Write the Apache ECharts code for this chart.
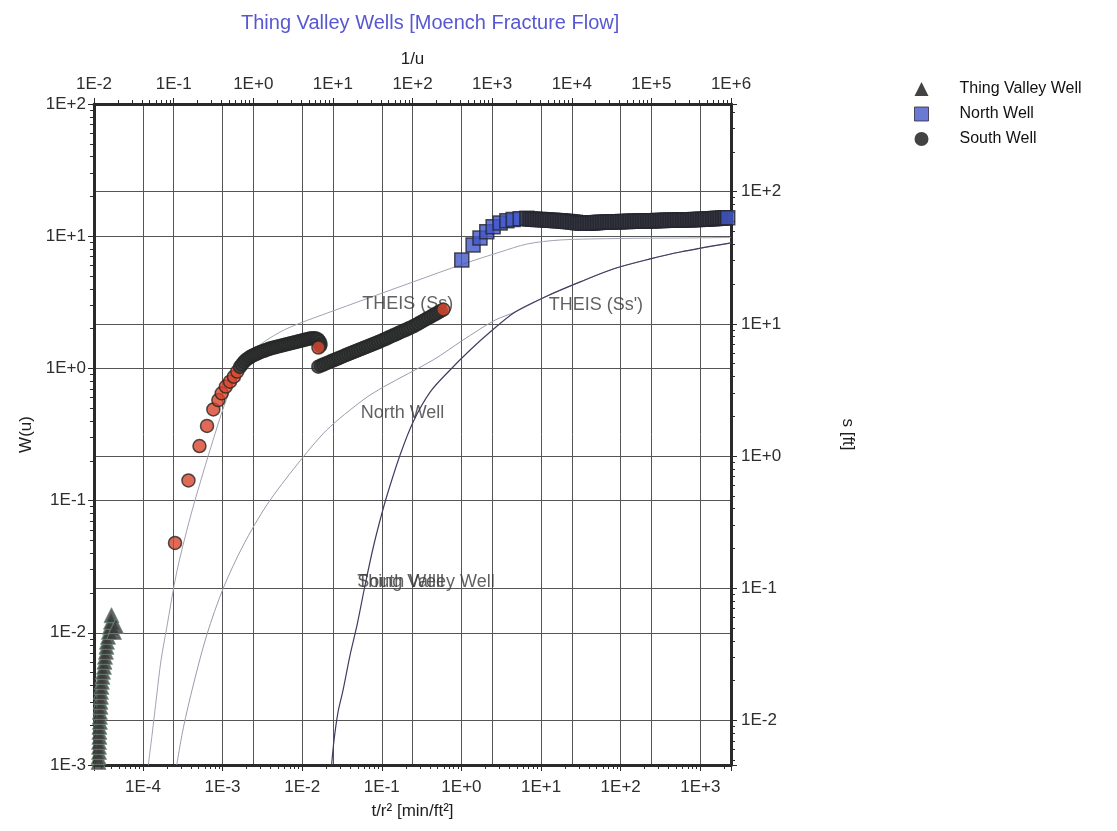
<!DOCTYPE html>
<html>
<head>
<meta charset="utf-8">
<title>Thing Valley Wells</title>
<script src="https://cdn.jsdelivr.net/npm/echarts@6/dist/echarts.min.js"></script>
<style>
  html, body { margin: 0; padding: 0; background: #ffffff; }
  #chart { width: 1117px; height: 831px; }
</style>
</head>
<body>
<div id="chart"></div>
<script>
// ---------------- observed drawdown: t/r^2 [min/ft^2] vs s [ft] ----------------
const thingValleyT = [2.77e-5, 2.77e-5, 2.81e-5, 2.81e-5, 2.81e-5, 2.84e-5, 2.84e-5, 2.84e-5, 2.88e-5, 2.88e-5,
  2.88e-5, 2.93e-5, 2.93e-5, 2.97e-5, 2.97e-5, 3.01e-5, 3.05e-5, 3.10e-5, 3.15e-5, 3.24e-5,
  3.29e-5, 3.34e-5, 3.43e-5, 3.48e-5, 3.53e-5, 3.64e-5, 3.74e-5, 3.85e-5, 3.97e-5, 4.03e-5,
  4.33e-5, 4.58e-5];
const thingValleyS = [0.00485, 0.00530, 0.00578, 0.00631, 0.00688, 0.00751, 0.00819, 0.00894, 0.00975, 0.01064,
  0.01161, 0.01267, 0.01382, 0.01508, 0.01645, 0.01795, 0.01958, 0.02137, 0.02331, 0.02543,
  0.02775, 0.03028, 0.03303, 0.03604, 0.03932, 0.04290, 0.04681, 0.05107, 0.05572, 0.0625,
  0.0467, 0.0518];

const northWellT = [1.01, 1.40, 1.71, 2.08, 2.50, 3.06, 3.72, 4.46, 5.46, 6.63,
  7.28, 7.83, 8.42, 9.05, 9.73, 10.46, 11.24, 12.08, 12.99, 13.96,
  15.01, 16.14, 17.35, 18.65, 20.05, 21.55, 23.17, 24.91, 26.78, 28.78,
  30.94, 33.26, 35.76, 38.44, 41.32, 44.42, 47.76, 51.34, 55.19, 59.33,
  63.78, 68.56, 73.71, 79.23, 85.18, 91.57, 98.43, 105.8, 113.8, 122.3,
  131.5, 141.3, 151.9, 163.3, 175.6, 188.8, 202.9, 218.1, 234.5, 252.1,
  271.0, 291.3, 313.2, 336.7, 361.9, 389.1, 418.3, 449.6, 483.4, 519.6,
  558.6, 600.5, 645.5, 693.9, 746.0, 801.9, 862.1, 926.7, 996.2, 1071,
  1151, 1238, 1330, 1430, 1538, 1653, 1777, 1910, 2053, 2207];
const northWellS = [30.4, 39.5, 44.6, 49.8, 54.3, 57.9, 60.3, 61.6, 62.4, 62.8,
  62.11, 61.90, 61.79, 61.57, 61.47, 61.25, 61.15, 60.93, 60.83, 60.62,
  60.51, 60.30, 60.20, 59.99, 59.78, 59.47, 59.16, 58.85, 58.55, 58.24,
  57.94, 57.74, 57.64, 57.64, 57.74, 57.94, 58.14, 58.34, 58.55, 58.65,
  58.75, 58.85, 58.95, 59.06, 59.16, 59.16, 59.26, 59.36, 59.47, 59.47,
  59.57, 59.67, 59.78, 59.78, 59.88, 59.99, 59.99, 60.09, 60.20, 60.20,
  60.30, 60.41, 60.41, 60.51, 60.62, 60.62, 60.72, 60.83, 60.83, 60.93,
  61.04, 61.04, 61.15, 61.25, 61.25, 61.36, 61.47, 61.57, 61.68, 61.79,
  61.90, 62.11, 62.22, 62.44, 62.55, 62.77, 62.88, 63.10, 63.32, 63.54];

const southWellT = [2.53e-4, 3.73e-4, 5.13e-4, 6.38e-4, 7.66e-4, 8.85e-4, 9.75e-4, 1.10e-3, 1.24e-3, 1.39e-3, 1.53e-3,
  1.656e-3, 1.754e-3, 1.858e-3, 1.968e-3, 2.089e-3, 2.213e-3, 2.344e-3, 2.483e-3, 2.630e-3, 2.786e-3,
  2.951e-3, 3.133e-3, 3.319e-3, 3.516e-3, 3.724e-3, 3.945e-3, 4.178e-3, 4.426e-3, 4.688e-3, 4.977e-3,
  5.272e-3, 5.585e-3, 5.916e-3, 6.266e-3, 6.637e-3, 7.031e-3, 7.447e-3, 7.907e-3, 8.375e-3, 8.872e-3,
  9.397e-3, 9.954e-3, 1.054e-2, 1.117e-2, 1.183e-2, 1.256e-2, 1.330e-2, 1.409e-2, 1.493e-2,
  1.58e-2, 1.65e-2, 1.70e-2, 1.68e-2, 1.60e-2,
  0.01595, 0.01715, 0.01843, 0.01982, 0.02130, 0.02290, 0.02461, 0.02646, 0.02844, 0.03057,
  0.03287, 0.03533, 0.03798, 0.04083, 0.04389, 0.04718, 0.05072, 0.05452, 0.05861, 0.06300,
  0.06772, 0.07280, 0.07826, 0.08413, 0.09043, 0.09721, 0.1045, 0.1123, 0.1208, 0.1298,
  0.1395, 0.1500, 0.1613, 0.1733, 0.1863, 0.2003, 0.2153, 0.2315, 0.2488, 0.2675,
  0.2875, 0.3091, 0.3323, 0.3572, 0.3840, 0.4128, 0.4437, 0.4770, 0.5127, 0.5512, 0.5925];
const southWellS = [0.220, 0.653, 1.19, 1.69, 2.25, 2.65, 2.98, 3.35, 3.65, 3.98, 4.35,
  4.72, 4.93, 5.15, 5.33, 5.47, 5.61, 5.71, 5.81, 5.91, 6.01,
  6.10, 6.18, 6.25, 6.34, 6.42, 6.50, 6.57, 6.62, 6.68, 6.74,
  6.80, 6.86, 6.92, 6.98, 7.04, 7.10, 7.16, 7.23, 7.29, 7.35,
  7.42, 7.48, 7.55, 7.62, 7.68, 7.73, 7.78, 7.79, 7.74,
  7.62, 7.35, 7.04, 6.80, 6.62,
  4.742, 4.834, 4.918, 5.013, 5.101, 5.200, 5.291, 5.394, 5.489, 5.595,
  5.693, 5.803, 5.905, 6.009, 6.114, 6.222, 6.331, 6.442, 6.555, 6.671,
  6.788, 6.907, 7.029, 7.152, 7.278, 7.419, 7.562, 7.709, 7.871, 8.024,
  8.179, 8.337, 8.513, 8.678, 8.846, 9.018, 9.208, 9.386, 9.568, 9.801,
  10.04, 10.29, 10.55, 10.81, 11.07, 11.35, 11.63, 11.91, 12.21, 12.51, 12.82];

// ---------------- type curves: 1/u vs W(u) ----------------
const theisSsU = [0.0481, 0.0536, 0.0614, 0.0695, 0.0818, 0.1094, 0.1607, 0.236, 0.313, 0.405,
  0.542, 0.766, 1.116, 2.17, 3.87, 9.23, 23.9, 101.8, 432, 1262, 2754, 7145, 40550, 230100, 1.0e6];
const theisSsW = [0.00100, 0.00169, 0.00339, 0.00622, 0.01087, 0.0288, 0.0738, 0.1644, 0.287, 0.468,
  0.748, 1.117, 1.452, 1.884, 2.20, 2.67, 3.29, 4.51, 6.16, 7.59, 8.73, 9.36, 9.61, 9.69, 9.78];

const northCurveU = [0.1094, 0.1324, 0.1766, 0.2606, 0.4207, 0.7516, 1.479, 3.516, 8.38, 23.9,
  43.1, 181.5, 432, 1091, 1945, 4909, 12760, 33110, 96600, 230100, 1.0e6];
const northCurveW = [0.00100, 0.00191, 0.00403, 0.00962, 0.0218, 0.0461, 0.0927, 0.1858, 0.342, 0.577,
  0.723, 1.158, 1.64, 2.32, 2.67, 3.53, 4.51, 5.65, 6.73, 7.59, 8.89];

const theisSs2U = [9.63, 10.35, 11.62, 13.43, 16.44, 20.14, 25.4, 32.0, 39.2, 48.0, 69.8, 101.8,
  166.3, 296.5, 529.6, 944, 1945, 4909, 12760, 33110, 96600, 230100, 1.0e6];
const theisSs2W = [0.00100, 0.00155, 0.00252, 0.00369, 0.00679, 0.01146, 0.0230, 0.0438, 0.0713, 0.1102, 0.2213, 0.3936,
  0.662, 0.973, 1.377, 1.884, 2.67, 3.53, 4.51, 5.65, 6.73, 7.59, 8.89];

// curve annotations, anchored in (1/u, W(u))
const curveLabelText = ['THEIS (Ss)', "THEIS (Ss')", 'North Well', 'South Well', 'Thing Valley Well'];
const curveLabelU = [23.1, 5055, 22.0, 19.95, 19.95];
const curveLabelW = [3.07, 3.02, 0.457, 0.0244, 0.0244];

// axis extents
const tRange = [2.43e-5, 2427];
const uRange = [0.01, 1e6];
const wRange = [0.001, 100];
const sRange = [0.0046, 460];

// ---------------- helpers ----------------
const zip = (xs, ys) => xs.map((x, i) => [x, ys[i]]);

function expLabel(v) {
  const e = Math.log10(v);
  const r = Math.round(e);
  if (Math.abs(e - r) > 1e-6) return '';
  return '1E' + (r < 0 ? '-' : '+') + Math.abs(r);
}

// 2..9 x 10^k positions for the small log ticks
function minorTicks(range) {
  const out = [];
  const lo = Math.floor(Math.log10(range[0]));
  const hi = Math.ceil(Math.log10(range[1]));
  for (let k = lo; k < hi; k++) {
    for (let m = 2; m <= 9; m++) {
      const v = m * Math.pow(10, k);
      if (v > range[0] && v < range[1]) out.push(v);
    }
  }
  return out;
}

// Where readings crowd together, a symbol is almost entirely hidden by the
// next one and only its dark outline stays visible: draw those in the outline tone.
function crowded(ts, ss, darkFill) {
  return ts.map((t, i) => {
    const item = { value: [t, ss[i]] };
    if (i + 1 < ts.length) {
      const dx = (Math.log10(ts[i + 1]) - Math.log10(t)) * 80;
      const dy = (Math.log10(ss[i + 1]) - Math.log10(ss[i])) * 132;
      if (Math.hypot(dx, dy) < 5) item.itemStyle = { color: darkFill };
    }
    return item;
  });
}

const FONT = '"Liberation Sans", Arial, sans-serif';
const INK = '#2a2a2a';
const tickText = { color: '#2e2e2e', fontSize: 17, fontFamily: FONT };
const nameText = { color: '#1e1e1e', fontSize: 17, fontFamily: FONT };
const border = { show: true, lineStyle: { color: INK, width: 3 } };
const majorTick = { show: true, inside: false, length: 6, lineStyle: { color: INK, width: 1 } };
const gridLine = { show: true, lineStyle: { color: '#555555', width: 1 } };

const plotBox = { left: 94, top: 104, width: 637, height: 661 };

function mainAxis(extra) {
  return Object.assign({
    type: 'log', logBase: 10, gridIndex: 0,
    axisLine: border, axisTick: majorTick, splitLine: gridLine,
    minorTick: { show: false }, minorSplitLine: { show: false },
    nameLocation: 'middle', nameTextStyle: nameText
  }, extra);
}

function minorAxis(position, range) {
  return {
    type: 'log', logBase: 10, gridIndex: 1, position: position,
    min: range[0], max: range[1],
    axisLine: { show: false }, axisLabel: { show: false }, splitLine: { show: false },
    axisTick: { show: true, inside: false, length: 4, customValues: minorTicks(range),
      lineStyle: { color: INK, width: 1 } }
  };
}

const chart = echarts.init(document.getElementById('chart'), null, { renderer: 'canvas' });

chart.setOption({
  animation: false,
  backgroundColor: '#ffffff',
  title: {
    text: 'Thing Valley Wells [Moench Fracture Flow]',
    left: 236, top: 8,
    textStyle: { color: '#5757d4', fontSize: 20, fontWeight: 'normal', fontFamily: FONT }
  },
  legend: {
    orient: 'vertical', left: 909, top: 76,
    itemWidth: 14, itemHeight: 14, itemGap: 9,
    selectedMode: false,
    textStyle: { fontSize: 16, color: '#111', fontFamily: FONT, padding: [0, 0, 0, 26] },
    data: [
      { name: 'Thing Valley Well', icon: 'triangle', itemStyle: { color: '#141414', borderWidth: 0 } },
      { name: 'North Well', icon: 'rect', itemStyle: { color: '#4558c8', borderColor: '#2a2a3a', borderWidth: 1 } },
      { name: 'South Well', icon: 'circle', itemStyle: { color: '#141414', borderWidth: 0 } }
    ]
  },
  grid: [Object.assign({}, plotBox), Object.assign({}, plotBox)],
  xAxis: [
    mainAxis({ position: 'bottom', min: tRange[0], max: tRange[1],
      name: 't/r² [min/ft²]', nameGap: 38,
      axisLabel: Object.assign({ margin: 14, formatter: expLabel }, tickText) }),
    mainAxis({ position: 'top', min: uRange[0], max: uRange[1],
      name: '1/u', nameGap: 36,
      axisLabel: Object.assign({ margin: 11, formatter: expLabel }, tickText) }),
    minorAxis('bottom', tRange),
    minorAxis('top', uRange)
  ],
  yAxis: [
    mainAxis({ position: 'left', min: wRange[0], max: wRange[1],
      name: 'W(u)', nameGap: 58, nameRotate: 90,
      axisLabel: Object.assign({ margin: 8, formatter: expLabel }, tickText) }),
    mainAxis({ position: 'right', min: sRange[0], max: sRange[1],
      name: 's [ft]', nameGap: 108, nameRotate: -90,
      axisLabel: Object.assign({ margin: 10, formatter: expLabel }, tickText) }),
    minorAxis('left', wRange),
    minorAxis('right', sRange)
  ],
  series: [
    {
      name: 'THEIS (Ss)', type: 'line', xAxisIndex: 1, yAxisIndex: 0,
      data: zip(theisSsU, theisSsW), showSymbol: false, smooth: 0.3, silent: true,
      lineStyle: { color: '#a2a2b2', width: 1 }, z: 3
    },
    {
      name: 'North Well curve', type: 'line', xAxisIndex: 1, yAxisIndex: 0,
      data: zip(northCurveU, northCurveW), showSymbol: false, smooth: 0.3, silent: true,
      lineStyle: { color: '#9a9aac', width: 1 }, z: 3
    },
    {
      name: "THEIS (Ss')", type: 'line', xAxisIndex: 1, yAxisIndex: 0,
      data: zip(theisSs2U, theisSs2W), showSymbol: false, smooth: 0.3, silent: true,
      lineStyle: { color: '#3e3e62', width: 1.2 }, z: 3
    },
    {
      name: 'curve labels', type: 'scatter', xAxisIndex: 1, yAxisIndex: 0,
      symbolSize: 1, itemStyle: { color: 'rgba(0,0,0,0)' }, silent: true, z: 4,
      label: { show: true, position: 'right', distance: 0, color: '#3a3a3a', fontSize: 18, fontFamily: FONT },
      data: curveLabelU.map((u, i) => ({ value: [u, curveLabelW[i]], label: { formatter: curveLabelText[i] } }))
    },
    {
      name: 'Thing Valley Well', type: 'scatter', xAxisIndex: 0, yAxisIndex: 1,
      data: zip(thingValleyT, thingValleyS), symbol: 'triangle', symbolSize: 15,
      itemStyle: { color: '#393939', borderColor: '#6e8e7c', borderWidth: 1 }, z: 5
    },
    {
      name: 'North Well', type: 'scatter', xAxisIndex: 0, yAxisIndex: 1,
      data: crowded(northWellT, northWellS, '#34363e'), symbol: 'rect', symbolSize: 14,
      itemStyle: { color: '#4056c8', borderColor: '#262630', borderWidth: 1.5 }, z: 5
    },
    {
      name: 'South Well', type: 'scatter', xAxisIndex: 0, yAxisIndex: 1,
      data: crowded(southWellT, southWellS, '#363a38'), symbol: 'circle', symbolSize: 13,
      itemStyle: { color: '#d8452b', borderColor: '#262626', borderWidth: 1.5 }, z: 5
    }
  ]
});
</script>
</body>
</html>
